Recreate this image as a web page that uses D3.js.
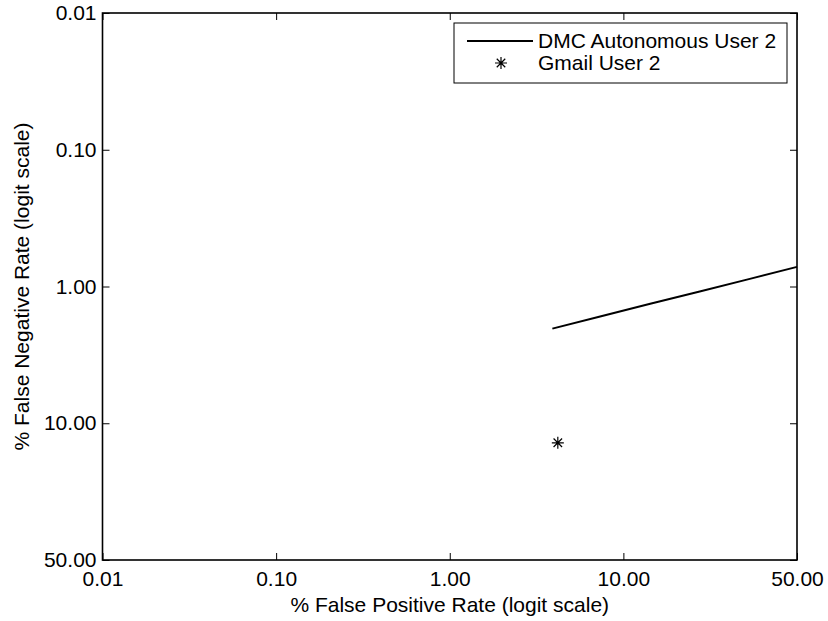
<!DOCTYPE html>
<html>
<head>
<meta charset="utf-8">
<script src="https://cdn.jsdelivr.net/npm/d3@7"></script>
<style>
  html, body { margin: 0; padding: 0; background: #fff; }
  svg { display: block; font-family: "Liberation Sans", Arial, Helvetica, sans-serif; }
</style>
</head>
<body>
<svg id="chart" width="828" height="621"></svg>
<script>
// Axis ticks (percent) and their printed labels
const xTicks = [0.01, 0.1, 1, 10, 50];
const xTickLabels = ["0.01", "0.10", "1.00", "10.00", "50.00"];
const yTicks = [0.01, 0.1, 1, 10, 50];
const yTickLabels = ["0.01", "0.10", "1.00", "10.00", "50.00"];

// DMC Autonomous User 2 operating curve (percent)
const dmcFpr = [4.0, 7.46, 13.5, 22.6, 35.5, 50.0];
const dmcFnr = [2.07, 1.68, 1.35, 1.09, 0.88, 0.72];

// Gmail User 2 single operating point (percent)
const gmailFpr = [4.3];
const gmailFnr = [13.2];

const seriesNames = ["DMC Autonomous User 2", "Gmail User 2"];

const FONT = 21;
const svg = d3.select("#chart");
const plotLeft = 102.5, plotRight = 797, plotTop = 13, plotBottom = 560;

// logit of a percentage
const logit = p => Math.log(p / (100 - p));

// piecewise-linear in logit space, with the labelled ticks evenly spaced
const x = d3.scaleLinear()
  .domain(xTicks.map(logit))
  .range(d3.quantize(d3.interpolate(plotLeft, plotRight), xTicks.length));
const y = d3.scaleLinear()
  .domain(yTicks.map(logit))
  .range(d3.quantize(d3.interpolate(plotTop, plotBottom), yTicks.length));

const TICK = 7;

// bottom axis with labels
const gx = svg.append("g")
  .attr("transform", `translate(0,${plotBottom})`)
  .call(d3.axisBottom(x).tickValues(xTicks.map(logit))
    .tickFormat((d, i) => xTickLabels[i])
    .tickSizeInner(-TICK).tickSizeOuter(0).tickPadding(11));
// top mirror ticks
const gxt = svg.append("g")
  .attr("transform", `translate(0,${plotTop})`)
  .call(d3.axisTop(x).tickValues(xTicks.map(logit))
    .tickFormat("").tickSizeInner(-TICK).tickSizeOuter(0));
// left axis with labels
const gy = svg.append("g")
  .attr("transform", `translate(${plotLeft},0)`)
  .call(d3.axisLeft(y).tickValues(yTicks.map(logit))
    .tickFormat((d, i) => yTickLabels[i])
    .tickSizeInner(-TICK).tickSizeOuter(0).tickPadding(6));
// right mirror ticks
const gyr = svg.append("g")
  .attr("transform", `translate(${plotRight},0)`)
  .call(d3.axisRight(y).tickValues(yTicks.map(logit))
    .tickFormat("").tickSizeInner(-TICK).tickSizeOuter(0));

[gx, gxt, gy, gyr].forEach(g => {
  g.select(".domain").remove();
  g.selectAll(".tick line").attr("stroke", "#000").attr("stroke-width", 1);
  g.selectAll(".tick text")
    .attr("fill", "#000")
    .style("font-size", FONT + "px")
    .style("font-family", "'Liberation Sans', Arial, sans-serif");
});

// plot box
svg.append("rect")
  .attr("x", plotLeft).attr("y", plotTop)
  .attr("width", plotRight - plotLeft).attr("height", plotBottom - plotTop)
  .attr("fill", "none").attr("stroke", "#000").attr("stroke-width", 1.6);

// axis titles
svg.append("text")
  .attr("x", (plotLeft + plotRight) / 2).attr("y", 612)
  .attr("text-anchor", "middle")
  .style("font-size", FONT + "px")
  .text("% False Positive Rate (logit scale)");
svg.append("text")
  .attr("transform", `translate(29,${(plotTop + plotBottom) / 2}) rotate(-90)`)
  .attr("text-anchor", "middle")
  .style("font-size", FONT + "px")
  .text("% False Negative Rate (logit scale)");

// DMC curve
const dmc = dmcFpr.map((f, i) => [f, dmcFnr[i]]);
svg.append("path")
  .datum(dmc)
  .attr("fill", "none").attr("stroke", "#000").attr("stroke-width", 2)
  .attr("stroke-linejoin", "round")
  .attr("d", d3.line().x(d => x(logit(d[0]))).y(d => y(logit(d[1]))));

// asterisk marker: plus overlaid with a cross
function asterisk(r) {
  const p = d3.path();
  const k = r * Math.SQRT1_2;
  p.moveTo(-r, 0); p.lineTo(r, 0);
  p.moveTo(0, -r); p.lineTo(0, r);
  p.moveTo(-k, -k); p.lineTo(k, k);
  p.moveTo(-k, k); p.lineTo(k, -k);
  return p.toString();
}

const gmail = gmailFpr.map((f, i) => [f, gmailFnr[i]]);
svg.selectAll(".gmail").data(gmail).enter().append("path")
  .attr("class", "gmail")
  .attr("transform", d => `translate(${x(logit(d[0]))},${y(logit(d[1]))})`)
  .attr("d", asterisk(6))
  .attr("fill", "none").attr("stroke", "#000").attr("stroke-width", 1.2);

// legend
const lg = svg.append("g");
lg.append("rect")
  .attr("x", 454).attr("y", 23).attr("width", 333).attr("height", 60)
  .attr("fill", "#fff").attr("stroke", "#000").attr("stroke-width", 1);
lg.append("line")
  .attr("x1", 467).attr("x2", 533).attr("y1", 41).attr("y2", 41)
  .attr("stroke", "#000").attr("stroke-width", 2);
lg.append("path")
  .attr("transform", "translate(501,63)")
  .attr("d", asterisk(6))
  .attr("fill", "none").attr("stroke", "#000").attr("stroke-width", 1.2);
lg.selectAll("text").data(seriesNames).enter().append("text")
  .attr("x", 538).attr("y", (d, i) => 41 + i * 22)
  .attr("dy", "0.35em")
  .style("font-size", FONT + "px")
  .text(d => d);
</script>
</body>
</html>
